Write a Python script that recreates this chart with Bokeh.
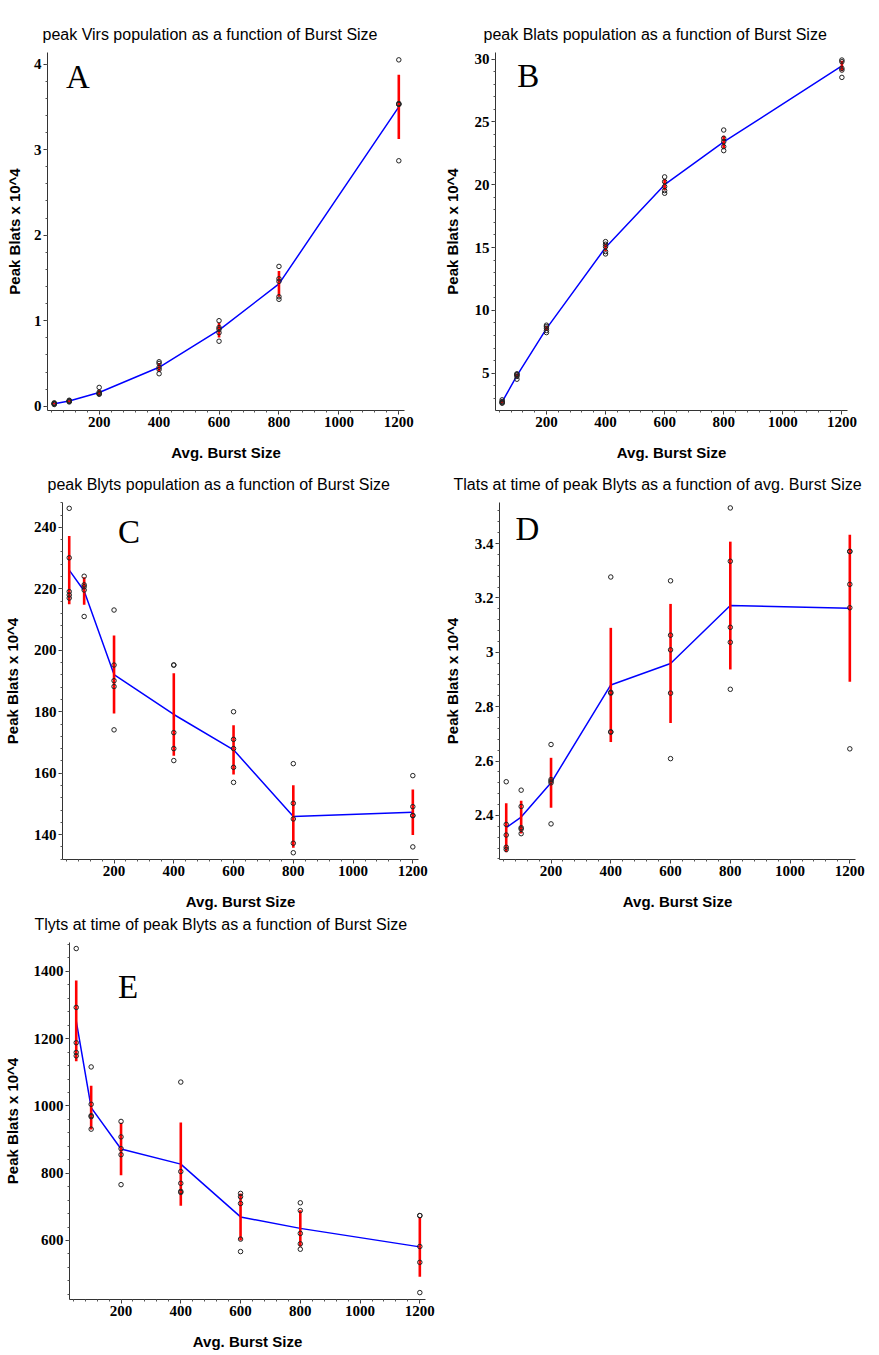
import numpy as np
from bokeh.plotting import figure
from bokeh.layouts import column, row
from bokeh.models import Range1d, FixedTicker, Label, Title
from bokeh.embed import file_html
from bokeh.resources import INLINE

# ---------------- data ----------------
burst_sizes = [50, 100, 200, 400, 600, 800, 1200]
x_major_ticks = [200, 400, 600, 800, 1000, 1200]
x_label = "Avg. Burst Size"
y_label = "Peak Blats x 10^4"

# A: peak Virs
a_title = "peak Virs population as a function of Burst Size"
a_runs = [[0.02, 0.03, 0.03, 0.04, 0.03],
          [0.05, 0.06, 0.06, 0.07, 0.06],
          [0.22, 0.165, 0.145, 0.14, 0.15],
          [0.52, 0.50, 0.455, 0.43, 0.38],
          [1.00, 0.92, 0.90, 0.86, 0.76],
          [1.635, 1.49, 1.46, 1.28, 1.25],
          [4.05, 3.54, 3.53, 3.53, 2.87]]
a_mean = [0.03, 0.06, 0.16, 0.455, 0.89, 1.43, 3.50]
a_err = [0.01, 0.01, 0.03, 0.05, 0.085, 0.15, 0.375]
a_yticks = [0, 1, 2, 3, 4]

# B: peak Blats
b_title = "peak Blats population as a function of Burst Size"
b_runs = [[2.88, 2.75, 2.70, 2.65, 2.61],
          [4.95, 4.90, 4.85, 4.74, 4.52],
          [8.82, 8.70, 8.58, 8.40, 8.23],
          [15.47, 15.26, 15.07, 14.68, 14.49],
          [20.62, 20.24, 19.85, 19.53, 19.32],
          [24.35, 23.69, 23.42, 23.03, 22.71],
          [29.92, 29.79, 29.26, 29.12, 28.54]]
b_mean = [2.72, 4.80, 8.55, 15.0, 20.0, 23.4, 29.45]
b_err = [0.1, 0.15, 0.2, 0.3, 0.45, 0.5, 0.42]
b_yticks = [5, 10, 15, 20, 25, 30]

# C: peak Blyts
c_title = "peak Blyts population as a function of Burst Size"
c_runs = [[246.2, 230.1, 219.1, 218.0, 217.0],
          [224.1, 221.3, 220.7, 219.6, 211.0],
          [213.1, 195.2, 190.1, 188.2, 174.1],
          [195.2, 195.2, 173.2, 168.0, 164.1],
          [180.0, 171.0, 168.0, 161.9, 157.0],
          [163.1, 150.2, 145.1, 137.2, 134.1],
          [159.2, 149.1, 146.2, 146.2, 136.0]]
c_mean = [226.1, 219.3, 192.1, 179.1, 167.6, 145.9, 147.3]
c_err = [11.1, 4.5, 12.7, 13.4, 8.0, 10.2, 7.4]
c_yticks = [140, 160, 180, 200, 220, 240]

# D: Tlats at time of peak Blyts
d_title = "Tlats at time of peak Blyts as a function of avg. Burst Size"
d_runs = [[2.524, 2.367, 2.328, 2.283, 2.275],
          [2.493, 2.433, 2.355, 2.350, 2.333],
          [2.661, 2.532, 2.526, 2.520, 2.369],
          [3.277, 2.853, 2.850, 2.707, 2.707],
          [3.263, 3.063, 3.009, 2.850, 2.609],
          [3.531, 3.335, 3.092, 3.037, 2.864],
          [3.371, 3.371, 3.250, 3.164, 2.645]]
d_mean = [2.355, 2.394, 2.520, 2.880, 2.959, 3.172, 3.162]
d_err = [0.09, 0.06, 0.092, 0.21, 0.219, 0.235, 0.27]
d_yticks = [2.4, 2.6, 2.8, 3, 3.2, 3.4]

# E: Tlyts at time of peak Blyts
e_title = "Tlyts at time of peak Blyts as a function of Burst Size"
e_runs = [[1468, 1293, 1188, 1159, 1149],
          [1116, 1005, 971, 968, 931],
          [954, 908, 873, 855, 766],
          [1071, 805, 770, 746, 743],
          [740, 730, 710, 604, 567],
          [712, 689, 621, 590, 574],
          [674, 674, 582, 535, 445]]
e_mean = [1253, 995, 872, 827, 670, 636, 581]
e_err = [120, 65, 78, 124, 70, 54, 89]
e_yticks = [600, 800, 1000, 1200, 1400]


def make_panel(title, runs, mean, err, yticks, yminor, yrange, letter, letter_xy,
               W, H, lb, rb, tb, bb, title_dx, ylab_standoff, xlab_standoff=14,
               overrides=None):
    p = figure(width=W, height=H, x_range=Range1d(27.5, 1219), y_range=Range1d(*yrange),
               output_backend="svg", toolbar_location=None, title=None,
               min_border_left=lb, min_border_right=rb, min_border_top=tb,
               min_border_bottom=bb, x_axis_label=x_label, y_axis_label=y_label)
    p.outline_line_color = None
    p.grid.visible = False
    p.background_fill_color = "white"
    p.border_fill_color = "white"

    p.xaxis.ticker = FixedTicker(ticks=x_major_ticks, minor_ticks=list(range(40, 1220, 40)))
    p.yaxis.ticker = FixedTicker(ticks=yticks, minor_ticks=yminor)
    if overrides:
        p.yaxis.major_label_overrides = overrides
    for ax in (p.xaxis[0], p.yaxis[0]):
        ax.axis_line_color = "#333333"
        ax.axis_line_width = 1
        ax.major_tick_line_color = "#333333"
        ax.minor_tick_line_color = "#555555"
        ax.major_tick_out = 4
        ax.major_tick_in = 0
        ax.minor_tick_out = 2
        ax.minor_tick_in = 0
        ax.major_label_text_font = "Liberation Serif"
        ax.major_label_text_font_style = "bold"
        ax.major_label_text_font_size = "15px"
        ax.major_label_text_color = "black"
        ax.major_label_standoff = 2
        ax.axis_label_text_font = "Liberation Sans"
        ax.axis_label_text_font_style = "bold"
        ax.axis_label_text_font_size = "15px"
        ax.axis_label_text_color = "black"
    p.xaxis.axis_label_standoff = xlab_standoff
    p.yaxis.axis_label_standoff = ylab_standoff

    lo = np.array(mean) - np.array(err)
    hi = np.array(mean) + np.array(err)
    p.line(burst_sizes, mean, line_color="#0000FF", line_width=1.5)
    p.segment(x0=burst_sizes, y0=lo, x1=burst_sizes, y1=hi, line_color="#FF0000", line_width=2.6)
    xs = [b for b, r in zip(burst_sizes, runs) for _ in r]
    ys = [v for r in runs for v in r]
    p.scatter(xs, ys, marker="circle", size=4.5, fill_color=None, line_color="#222222",
              line_width=1)

    # spacer between frame and title, then the title itself
    p.add_layout(Title(text=" ", text_font_size="1px", standoff=7), "above")
    p.add_layout(Title(text=title, text_font="Liberation Sans", text_font_size="16px",
                       text_font_style="normal", text_color="black", align="left",
                       offset=title_dx, standoff=0, vertical_align="bottom"), "above")

    p.add_layout(Label(x=letter_xy[0], y=letter_xy[1], text=letter,
                       text_font="Liberation Serif", text_font_size="33px",
                       text_baseline="middle", text_align="left", text_color="black"))
    return p


pA = make_panel(a_title, a_runs, a_mean, a_err, a_yticks, list(np.arange(0, 4.2, 0.2)),
                (-0.05, 4.136), "A", (89, 3.849), 440, 467, 47, 36, 52, 57, -5, 8)
pB = make_panel(b_title, b_runs, b_mean, b_err, b_yticks, list(range(3, 31)),
                (2.03, 30.52), "B", (101, 28.66), 436, 467, 50, 29, 52, 57, -12, 11)
pC = make_panel(c_title, c_runs, c_mean, c_err, c_yticks, list(range(132, 249, 4)),
                (131.9, 248.1), "C", (213, 238.5), 440, 445, 61, 22, 35, 53, -15, 10)
pD = make_panel(d_title, d_runs, d_mean, d_err, d_yticks,
                list(np.round(np.arange(2.24, 3.56, 0.04), 2)),
                (2.238, 3.551), "D", (81, 3.454), 436, 445, 57, 21, 35, 53, -46, 11,
                overrides={3: "3"})
pE = make_panel(e_title, e_runs, e_mean, e_err, e_yticks, list(range(440, 1481, 40)),
                (424.5, 1486), "E", (190, 1353.9), 440, 440, 68, 15, 30, 53, -35, 10)

layout = column(row(pA, pB), row(pC, pD), row(pE))
open("out.html", "w").write(file_html(layout, INLINE))
